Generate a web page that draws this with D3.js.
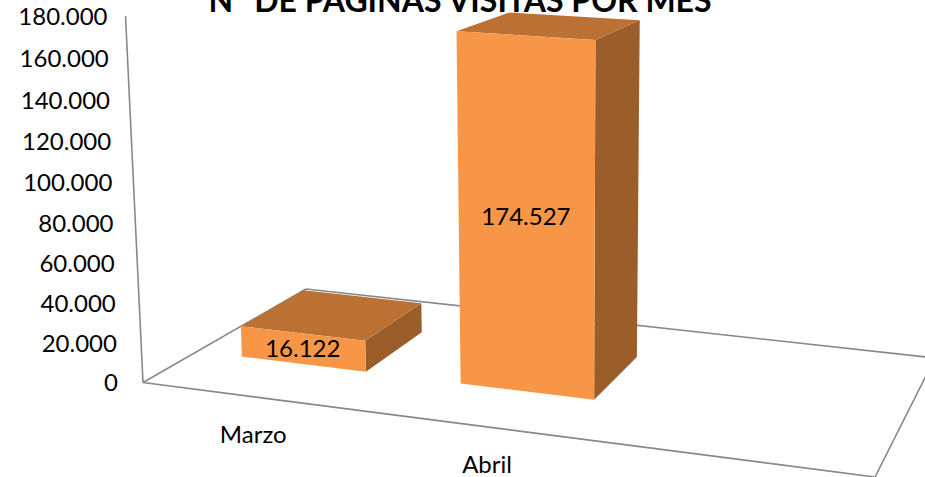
<!DOCTYPE html>
<html>
<head>
<meta charset="utf-8">
<script src="https://cdn.jsdelivr.net/npm/d3@7"></script>
<style>
  body { margin: 0; background: #fff; }
  text { font-family: Lato, "Open Sans", sans-serif; fill: #000; }
</style>
</head>
<body>
<div id="chart"></div>
<script>
// Data
const categories = ["Marzo", "Abril", ""];
const values = [16122, 174527, null];
const yTicks = [0, 20000, 40000, 60000, 80000, 100000, 120000, 140000, 160000, 180000];
const title = "N° DE PAGINAS VISITAS POR MES";

const width = 925, height = 477;

// Spanish number format: 174.527
const es = d3.formatLocale({ decimal: ",", thousands: ".", grouping: [3], currency: ["", " €"] });
const fmt = es.format(",d");

// --- 3D projection (floor quad + vertical vanishing column) ---
const floorQuad = { fl: [143, 382.5], fr: [875, 477], br: [935, 358], bl: [306, 289] };
const vertCol = [-22.5, -367, -0.04];

function squareToQuad(q) {
    const [x0, y0] = q.fl, [x1, y1] = q.fr, [x2, y2] = q.br, [x3, y3] = q.bl;
    const dx1 = x1 - x2, dx2 = x3 - x2, dx3 = x0 - x1 + x2 - x3;
    const dy1 = y1 - y2, dy2 = y3 - y2, dy3 = y0 - y1 + y2 - y3;
    const den = dx1 * dy2 - dx2 * dy1;
    const g = (dx3 * dy2 - dx2 * dy3) / den;
    const h = (dx1 * dy3 - dx3 * dy1) / den;
    return {
        a: x1 - x0 + g * x1, b: x3 - x0 + h * x3, c: x0,
        d: y1 - y0 + g * y1, e: y3 - y0 + h * y3, f: y0,
        g: g, h: h
    };
}
const H = squareToQuad(floorQuad);

// u: across categories (0..1), t: height (0..1), v: depth (0 front .. 1 back)
function project(u, t, v) {
    const X = H.a * u + H.b * v + H.c + t * vertCol[0];
    const Y = H.d * u + H.e * v + H.f + t * vertCol[1];
    const W = H.g * u + H.h * v + 1 + t * vertCol[2];
    return [X / W, Y / W];
}

// Scales
const x = d3.scaleBand().domain(categories).range([0, 1]).paddingInner(0.424).paddingOuter(0.212);
const y = d3.scaleLinear().domain([0, 180000]).range([0, 1]);
const depth = { front: 0.3, back: 0.7 };

const svg = d3.select("#chart").append("svg")
    .attr("width", width)
    .attr("height", height);

const line = d3.line();

// Floor outline
const floorG = svg.append("g")
    .attr("fill", "none")
    .attr("stroke", "#888")
    .attr("stroke-width", 1.6);
[[[0, 0], [1, 0]], [[0, 0], [0, 1]], [[0, 1], [1, 1]], [[1, 0], [1, 1]]].forEach(seg => {
    floorG.append("path").attr("d", line(seg.map(p => project(p[0], 0, p[1]))));
});

// Value axis line
svg.append("path")
    .attr("d", line([project(0, 0, 0), project(0, 1, 0)]))
    .attr("stroke", "#888")
    .attr("stroke-width", 1.6)
    .attr("fill", "none");

// Value tick labels
svg.append("g").selectAll("text")
    .data(yTicks)
    .enter().append("text")
    .attr("x", d => project(0, y(d), 0)[0] - 18 - 7 * (1 - y(d)))
    .attr("y", d => project(0, y(d), 0)[1])
    .attr("dy", "0.35em")
    .attr("text-anchor", "end")
    .style("font-size", "24px")
    .text(d => fmt(d));

// Bars
const bars = categories.map((c, i) => ({ cat: c, value: values[i] })).filter(d => d.value != null);

const faces = svg.append("g");
bars.forEach(d => {
    const u0 = x(d.cat), u1 = x(d.cat) + x.bandwidth();
    const t = y(d.value);
    const v0 = depth.front, v1 = depth.back;
    const g = faces.append("g");
    // right side
    g.append("path")
        .attr("d", line([project(u1, 0, v0), project(u1, 0, v1), project(u1, t, v1), project(u1, t, v0)]) + "Z")
        .attr("fill", "#9b5d2a");
    // top
    g.append("path")
        .attr("d", line([project(u0, t, v0), project(u1, t, v0), project(u1, t, v1), project(u0, t, v1)]) + "Z")
        .attr("fill", "#bb7034");
    // front
    g.append("path")
        .attr("d", line([project(u0, 0, v0), project(u1, 0, v0), project(u1, t, v0), project(u0, t, v0)]) + "Z")
        .attr("fill", "#f79646");
    // data label
    const c = project((u0 + u1) / 2, t / 2, v0);
    g.append("text")
        .attr("x", c[0])
        .attr("y", c[1])
        .attr("dy", "0.35em")
        .attr("text-anchor", "middle")
        .style("font-size", "24px")
        .text(fmt(d.value));
});

// Category labels
svg.append("g").selectAll("text")
    .data(categories.filter(c => c !== ""))
    .enter().append("text")
    .attr("x", c => project(x(c) + x.bandwidth() / 2, 0, 0)[0])
    .attr("y", c => project(x(c) + x.bandwidth() / 2, 0, 0)[1] + 38)
    .attr("dy", "0.35em")
    .attr("text-anchor", "middle")
    .style("font-size", "24px")
    .text(c => c);

// Title (cut at top, as in the original)
svg.append("text")
    .attr("x", 460)
    .attr("y", 12)
    .attr("text-anchor", "middle")
    .style("font-size", "32px")
    .style("font-weight", "bold")
    .text(title);
</script>
</body>
</html>
